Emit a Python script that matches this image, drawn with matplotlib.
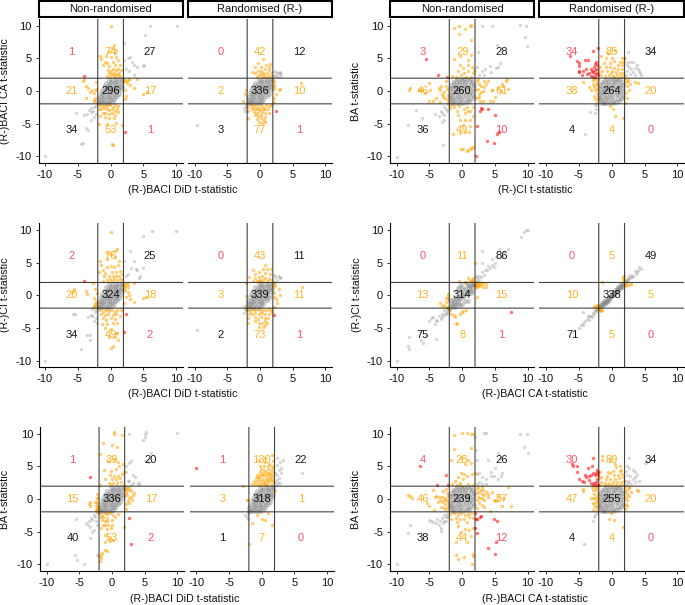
import matplotlib
matplotlib.use('Agg')
import matplotlib.pyplot as plt
from matplotlib.patches import Rectangle

plt.rcParams['font.family'] = ['Liberation Sans', 'DejaVu Sans']

W, H = 685, 605
lim = 11
thr = 1.96

# central clouds, read by eye
blob_round = [(-1.8,-1.6),(-1.5,-1.8),(-1.2,-1.9),(-0.8,-1.8),(-0.3,-1.9),(0.2,-1.8),(0.7,-1.7),(1.1,-1.5),(-1.9,-1.1),(-1.6,-1.2),(-1.2,-1.3),(-0.9,-1.1),(-0.5,-1.4),(-0.1,-1.2),(0.4,-1.3),(0.9,-1.1),(1.4,-1.2),(1.8,-0.9),(-1.9,-0.6),(-1.5,-0.7),(-1.1,-0.5),(-0.7,-0.8),(-0.3,-0.6),(0.1,-0.7),(0.6,-0.6),(1.0,-0.4),(1.5,-0.6),(-1.8,-0.1),(-1.4,-0.2),(-1.0,0.0),(-0.6,-0.2),(-0.2,0.0),(0.3,-0.1),(0.7,0.1),(1.2,-0.1),(1.7,0.0),(-1.9,0.4),(-1.5,0.5),(-1.1,0.3),(-0.7,0.5),(-0.3,0.3),(0.2,0.5),(0.6,0.4),(1.1,0.5),(1.6,0.4),(-1.7,0.9),(-1.3,1.0),(-0.9,0.8),(-0.5,1.0),(0,0.9),(0.4,1.0),(0.9,0.8),(1.3,1.0),(1.8,0.9),(-1.4,1.4),(-1.0,1.5),(-0.5,1.4),(0,1.5),(0.5,1.4),(1.0,1.5),(1.5,1.4),(-0.8,1.8),(-0.2,1.9),(0.3,1.8),(0.8,1.9),(1.3,1.8)]
blob_tilt = [(-1.9,-1.8),(-1.6,-1.9),(-1.3,-1.7),(-1.0,-1.9),(-0.6,-1.8),(-0.2,-1.9),(0.2,-1.7),(-1.9,-1.3),(-1.5,-1.4),(-1.1,-1.2),(-0.7,-1.4),(-0.3,-1.3),(0.1,-1.2),(0.5,-1.4),(-1.8,-0.9),(-1.4,-0.8),(-1.0,-0.9),(-0.6,-0.7),(-0.2,-0.9),(0.2,-0.8),(0.6,-0.9),(1.0,-0.7),(-1.5,-0.3),(-1.1,-0.4),(-0.7,-0.2),(-0.3,-0.4),(0.1,-0.2),(0.5,-0.4),(0.9,-0.2),(1.3,-0.4),(-1.3,0.2),(-0.9,0.1),(-0.5,0.3),(-0.1,0.1),(0.3,0.3),(0.7,0.1),(1.1,0.3),(1.5,0.1),(-1.0,0.7),(-0.6,0.6),(-0.2,0.8),(0.2,0.6),(0.6,0.8),(1.0,0.6),(1.4,0.8),(1.8,0.6),(-0.7,1.2),(-0.3,1.1),(0.1,1.3),(0.5,1.1),(0.9,1.3),(1.3,1.1),(1.7,1.3),(-0.2,1.7),(0.2,1.6),(0.6,1.8),(1.0,1.6),(1.4,1.8),(1.8,1.7)]
blob_diag_wide = [(-1.9,-1.9),(-1.6,-1.5),(-1.4,-1.7),(-1.2,-1.1),(-1,-1.3),(-0.8,-0.6),(-0.6,-0.9),(-0.5,-0.3),(-0.3,-0.6),(-0.1,0),(0.1,-0.2),(0.3,0.4),(0.5,0.1),(0.7,0.7),(0.9,0.4),(1,1.1),(1.2,0.8),(1.4,1.5),(1.6,1.2),(1.8,1.8),(1.9,1.6),(-1.7,-1.2),(-1,-0.3),(-0.2,0.5),(0.5,1),(-0.8,0.7),(-0.4,1.3),(0.1,1.1),(0,-1.3),(0.9,-0.8),(1.4,0.3),(-1.4,-0.5),(-1.1,-1.8),(-0.4,-1.5),(0.4,-0.9),(-0.1,1.8),(-0.7,1.1),(0.9,1.6),(1.5,0.7),(-1.8,-0.7),(0.6,1.9),(1.6,1.8),(1.1,1.4),(-1.2,-0.9),(-0.7,-1.3)]
blob_diag_tight = [(-1.9,-1.8),(-1.7,-1.8),(-1.6,-1.5),(-1.4,-1.5),(-1.2,-1.1),(-1,-1.1),(-0.8,-0.8),(-0.6,-0.7),(-0.4,-0.5),(-0.2,-0.2),(0,0),(0.2,0.1),(0.4,0.5),(0.6,0.5),(0.8,0.9),(1,0.9),(1.2,1.3),(1.4,1.3),(1.6,1.7),(1.8,1.6),(1.9,1.9),(-1.5,-1.2),(-1.1,-0.8),(-0.7,-0.5),(-0.3,-0.1),(0.1,0.4),(0.5,0.8),(0.9,1.2),(1.3,1.6),(-1.3,-1.5),(-0.9,-1.1),(-0.5,-0.8),(-0.1,-0.3),(0.3,0.1),(0.7,0.5),(1.1,0.9),(1.5,1.3)]

# row 1
r1c1_counts = [1,74,27,21,296,17,34,53,1]
r1c1_grey = [(-10,-10),(6,10),(10.1,10),(5.2,8.6),(2,7.4),(3,5.2),(2.6,5),(3.3,4.5),(2,4.8),(3.5,4),(4,3.7),(5,3.8),(5.1,3.9),(2.3,3.3),(2.8,3),(3.5,2.5),(-5.3,-3.4),(-4,-3.6),(-3.6,-3.5),(-3,-3.2),(-3.3,-2.9),(-3,-2.6),(-2.7,-3),(-2.5,-2.5),(-2.2,-2.3),(-4.5,-8.1),(-4.2,-8),(-3.5,-5.9),(-3.8,-5.6),(-3,-4.5),(-2.6,-4),(-2.2,-3.5)]
r1c1_orange = [(0,9.9),(0.5,7),(0.2,6.5),(0.9,6.3),(-0.3,6),(0.6,5.8),(-1.6,5.3),(-0.7,5.4),(-1.5,4.9),(-0.9,4.5),(0.1,5.2),(0.8,5.2),(1.1,4.7),(-0.5,4.3),(0.3,4.5),(-1.1,3.9),(-0.2,3.8),(0.6,3.9),(1.4,4),(1.6,3.2),(-0.4,3.2),(0,3.1),(0.4,3.3),(0.8,3.2),(1.2,3.4),(-0.3,2.7),(0.1,2.6),(0.5,2.8),(0.9,2.6),(1.3,2.8),(-0.5,2.3),(-0.1,2.2),(0.3,2.4),(0.7,2.2),(1.1,2.4),(1.5,2.3),
    (-4,1.9),(-4.2,1.6),(-3.7,0.8),(-3.4,0.4),(-2.8,0.2),(-2.3,0.1),(-2.2,0.3),(-2.5,-0.3),(-2.4,-1),(-2.5,-1.6),(-2.5,-1.4),(-3.7,-1),(-3.1,-0.1),(-2.3,1.3),
    (2.1,1.6),(2.3,1.5),(2.5,1.2),(2.9,0.9),(3.5,0.4),(2.2,0.2),(4.9,-0.4),(5.5,-0.2),(2.4,-0.7),(2.2,-1.2),(2.8,1.8),(2.1,1.9),(4,1.8),(2.6,1.7),
    (-1.7,-2.2),(-1.3,-2.3),(-0.9,-2.1),(-0.5,-2.3),(-0.1,-2.2),(0.3,-2.4),(0.7,-2.2),(1.1,-2.3),(-1.8,-2.7),(-1.4,-2.8),(-1,-2.6),(-0.6,-2.8),(-0.2,-2.9),(0.2,-2.7),(0.6,-3),(1.0,-2.7),(-1.2,-3.3),(-0.8,-3.4),(-0.3,-3.5),(0.2,-3.3),(0.6,-3.6),(1.2,-3.2),(-1.6,-3.8),(-0.9,-4),(-0.2,-4.2),(0.5,-4.1),(-1.7,-5),(-0.5,-5),(0.9,-4.9),(0.2,-8.1),(0.3,-8.3),(1.7,-5.2)]
r1c1_red = [(-4,2.3),(2.2,-6.2)]

r1c2_counts = [0,42,12,2,336,10,3,77,1]
r1c2_grey = [(-9.7,-5.2),(-2.5,-2.6),(-2,-3),(2.3,2.5),(2.6,2.3),(2.9,2.2),(3.1,2.7),(3,2.9),(2.5,2.9),(2.1,3.1),(2.2,2.2),(2.7,2.7),(3.2,2.4),(-2.1,-2.2),(-2.3,-3.1),(-2.2,-2.5)]
r1c2_orange = [(0.4,4.9),(-0.3,4.3),(0.9,4),(1.5,4.2),(1.3,3.7),(-0.7,3.6),(0.1,3.7),(0.7,3.4),(1.4,3.2),(-1.2,2.9),(-0.8,2.8),(-0.3,3),(0.2,3),(0.5,2.8),(1.1,2.8),(1.7,2.8),(-0.1,2.4),(0.3,2.2),(0.6,2.5),(0.9,2.2),(1.3,2.3),(-0.5,2.2),(1.8,2.3),(0.2,2.6),
    (-2.3,-0.5),(-2.6,-1.5),(-2.2,0.1),
    (2.1,1.6),(2.2,1.1),(2.9,0.2),(2.2,0.3),(3,0.3),(2.4,-0.5),(2.1,-1),(6.2,1.2),(2.2,-1.7),(2.1,0.8),
    (-1.8,-2.4),(-1.4,-2.2),(-1,-2.4),(-0.7,-2.2),(-0.3,-2.4),(0.1,-2.2),(0.5,-2.4),(0.9,-2.1),(1.3,-2.3),(1.7,-2.2),(-1.2,-2.7),(-0.8,-2.8),(-0.4,-2.7),(0,-2.8),(0.4,-2.7),(0.8,-2.8),(1.2,-2.7),(-1.8,-3.1),(-0.9,-3.2),(-0.5,-3.3),(-0.1,-3.1),(0.3,-3.2),(0.8,-3.3),(1.3,-3.4),(-0.8,-3.7),(-0.3,-3.8),(0.2,-3.7),(0.7,-3.9),(-1.9,-4.2),(-0.4,-4.3),(0.1,-4.2),(0.6,-4.4),(-0.1,-4.8),(0.3,-4.9),(0.7,-4.7)]
r1c2_red = [(2.4,-3)]

r1c3_counts = [3,29,28,46,260,61,36,49,10]
r1c3_grey = [(-10,-10.1),(3,10),(4.5,10),(8.8,10.1),(9.8,10),(9.6,8.3),(9.9,6.8),(5.3,7),(2.4,6),(5.8,4.3),(5.5,3.6),(5.2,3.5),(4.3,3.8),(3.5,3.4),(3.1,3),(2.5,2.5),(3.4,2.4),(2.3,3.7),(4.4,2.9),(-8.2,-5.2),(-6.1,-4.1),(-7,-2.9),(-4.1,-3.5),(-3.6,-3.8),(-3,-3.3),(-2.8,-4.5),(-3.1,-4.8),(-2.8,-3.7),(-2.3,-3),(-2.7,-2.4),(-3.3,-3.1),(-2.2,-2.1),(-2.5,-2.8),(-2.9,-8.2)]
r1c3_orange = [(-1.3,9.7),(-0.5,10),(0.5,9.4),(1.4,10.1),(1.2,10),(-0.5,8.7),(1.3,7.8),(-1.2,4.9),(-0.3,5.3),(1.3,5.5),(0.9,4.8),(-0.4,3.9),(0.2,3.5),(0.9,3.9),(1.5,3.6),(-0.7,3),(0.3,2.8),(0.9,3),(1.6,2.8),(-1.6,2.3),(-0.9,2.2),(-0.2,2.4),(0.6,2.2),(1.4,2.2),(1.8,3.2),
    (-8,0.4),(-8.1,0.2),(-6.6,0.2),(-6.2,0.1),(-5.7,-0.3),(-5,1.2),(-4.9,0.2),(-4.4,-1.6),(-4,-1),(-3.6,0.4),(-3.4,0.1),(-3.1,-0.4),(-2.9,-0.7),(-2.7,-0.1),(-2.5,0.8),(-2.3,0.3),(-2.8,-1.1),(-2.3,-1.2),(-2.1,-0.6),(-2.2,-1.7),(-3.4,-1.7),(-5.1,-1.5),(-2.5,1.5),(-3.2,0.7),
    (2.2,1.6),(2.6,1),(2.9,0.8),(3.3,0.6),(2.4,0.3),(2.1,0.1),(2.5,-0.4),(2.9,-0.2),(3.2,0),(3.7,1.1),(4,1.5),(4.5,0.1),(4.6,0.2),(5.5,0.4),(6,1.1),(6.3,0.7),(6.8,1.9),(6.7,1.5),(7,0.3),(5.9,0),(2.2,-1),(2.7,-1.5),(3.2,-1.5),(4.2,-1.5),(4.7,-1.6),(2.4,1.9),(3.3,1.5),(5,-0.9),(2.6,-0.9),
    (-1.7,-2.2),(-1.2,-2.4),(-0.5,-2.3),(0.3,-2.7),(0.8,-2.5),(1.2,-3),(1.6,-2.4),(-1.8,-2.6),(-0.8,-3),(0.5,-3.3),(0.9,-3),(1.7,-3.8),(-0.4,-4.4),(0.4,-4.5),(1.2,-4.5),(-0.6,-3.7),(0.2,-5.2),(1.2,-5.3),(-1.4,-6.5),(-0.4,-6.4),(0.4,-6.2),(1,-6.2),(1.6,-8.5),(1.4,-8.7),(0.9,-9),(0.2,-8.9),(0.8,-9.2),(1.4,-8.8),(-0.1,-8.8)]
r1c3_red = [(-5.5,4.9),(-3.7,2.5),(-2.3,2.1),(2.9,-2.6),(3,-2.8),(2.7,-3),(3.9,-2.7),(5,-3.6),(2.2,-5.3),(3.8,-7.7),(4.8,-8),(5.3,-6.5),(5.6,-6.2),(2.1,-10)]

r1c4_counts = [34,85,34,38,264,20,4,4,0]
r1c4_grey = [(-2.4,-2.8),(-2.6,-3.3),(-3.3,-3.2),(-4,-6.6),(-2.2,-2.2),(-2.5,-2.1),(2.5,6),(5.5,5.8),(2.1,5),(2.8,4.5),(3.2,4.4),(2.4,3.9),(3.8,4),(3.5,3.5),(3,3.3),(2.4,3.1),(4,3.3),(4.3,2.8),(2.8,2.6),(3.5,2.5),(2.2,2.4),(3.2,2.9),(2.6,3.6),(4.4,2.5),(2.3,4.4),(4.2,3)]
r1c4_orange = [(-0.5,5.8),(0.5,6.2),(-1.6,5.3),(-0.9,5),(0,5),(1.5,5),(1.9,5.1),(1.2,4.5),(1.7,4.5),(-1.2,4.3),(-0.3,4.3),(0.4,4.6),(0.9,4),(1.5,3.9),(-1.7,3.7),(-0.9,3.6),(-0.2,3.7),(0.4,3.5),(1,3.3),(1.6,3.3),(-1.4,3),(-0.7,3),(0,3),(0.6,2.9),(1.2,2.8),(1.8,2.8),(-1.6,2.4),(-1,2.3),(-0.4,2.5),(0.2,2.3),(0.8,2.4),(1.4,2.3),(1.9,2.3),(-0.1,2.7),(0.4,2.1),(-1.9,2.9),
    (-4.3,1.3),(-2.9,1.7),(-2.9,1.1),(-2.7,0.6),(-2.4,0.9),(-2.2,1.4),(-3.4,0.6),(-3.2,0.1),(-2.6,0.1),(-2.3,0.3),(-2.2,-0.3),(-2.7,-0.7),(-2.5,-1.2),(-2.3,-1.7),(-2.1,-1),(-2.6,1.9),(-2.1,1.8),(-2.3,1.1),
    (2.1,1.8),(2.2,1.3),(2.5,1.5),(2.8,1.1),(3.6,1.3),(4,1.2),(2.3,0.7),(2.6,0.2),(2.2,-0.3),(2.3,-1),(2.1,-1.8),(2.5,1.9),
    (-0.2,-2.3),(0.2,-2.7),(1.7,-4.2),(0.5,-3.8)]
r1c4_red = [(-2,6.6),(-2.9,6.1),(-6.4,5.3),(-5.2,4.6),(-4.9,4.3),(-4,4.8),(-3.6,4.7),(-4.9,3.8),(-5,3.1),(-4.9,2.9),(-4.4,3),(-3.9,3.3),(-3.8,2.6),(-4.5,2.4),(-3.4,2.7),(-3.2,3.3),(-3,3),(-2.8,2.9),(-2.7,3.7),(-2.5,3.2),(-2.6,2.6),(-2.3,2.8),(-2.2,3.4),(-2.4,4.4),(-2.1,2.4),(-2.5,2.2),(-3.1,2.3),(-2.3,3.9),(-2.6,4.1),(-2.9,2.2)]

# row 2
r2c1_counts = [2,76,25,20,324,18,34,49,2]
r2c1_grey = [(-10,-10),(6.3,9.8),(10,9.9),(5,9),(3,6.8),(2,5.3),(3.5,5.2),(3.1,4.2),(3.8,4),(4,3.9),(5,4.2),(4.5,3),(2.7,3.2),(2.3,2.9),(4.4,2.6),(-5.7,-2.8),(-5.4,-2.9),(-3.5,-3.3),(-3,-3),(-2.8,-3.2),(-2.4,-2.5),(-2.2,-2.2),(-2.8,-2.1),(-2.1,-4.3),(-3.6,-6),(-3.2,-6.8),(-3.1,-6.1),(-4.5,-8.2),(-2.2,-3.5),(-2.6,-3.9)]
r2c1_orange = [(0,9.7),(1,7),(0.7,6.8),(0.1,6.3),(-0.5,6.5),(0.7,5.9),(-1.6,5.3),(-0.5,5.5),(1.3,5.2),(-1.4,4.6),(-0.5,4.4),(0,4.5),(0.5,4.4),(1.1,4.7),(-1.7,3.5),(-1.2,3.9),(-0.8,3.4),(0.2,3.5),(0.9,3.6),(1.5,3.7),(-1,2.9),(-0.3,3),(0.4,3),(0.8,2.9),(1.3,3),(1.8,3.2),(-0.6,2.4),(-0.1,2.5),(0.5,2.5),(1,2.4),(1.4,2.5),(1.8,2.4),(0.2,2.2),(-1.2,2.2),
    (-5.6,0.9),(-5.8,0.5),(-3.7,0.6),(-3.6,0.2),(-2.7,1.9),(-2.4,1),(-2.5,-0.4),(-2.4,-1.4),(-2.5,-1.8),(-2.2,-1.2),(-2.3,-0.9),(-2.1,0.4),(-2.2,-1.6),(-2.6,-1.7),
    (2,1.8),(2.2,1.4),(2.4,1.7),(2.6,1.2),(3.5,1.9),(2.2,0.8),(2.6,0.5),(2.3,-0.2),(3,-0.6),(3.6,-1),(5,-0.4),(5.4,-0.2),(2.1,-1.2),(2.8,0),(2.1,1.1),(2.7,1.8),
    (-1.6,-2.2),(-1.2,-2.5),(-0.7,-2.2),(-0.2,-2.4),(0.2,-2.2),(0.6,-2.5),(1,-2.3),(1.6,-2.2),(-1.5,-2.9),(-0.9,-3),(-0.4,-2.8),(0.3,-3),(0.8,-2.9),(-1.2,-3.5),(-0.7,-3.7),(0,-3.5),(0.6,-3.6),(1.4,-3.2),(-1.3,-4.4),(-0.6,-4.4),(0.3,-4.2),(1,-4.2),(-0.8,-5),(0.1,-5.2),(0.8,-5.8),(1,-5.7),(-0.3,-6.3),(0.6,-6.3),(1.2,-6.8),(0.1,-8),(0.3,-7.8)]
r2c1_red = [(-4.1,2.2),(2.4,-2.8),(2.1,-5.6)]

r2c2_counts = [0,43,11,3,339,11,2,73,1]
r2c2_grey = [(-9.7,-5.3),(-2.4,-2.7),(-2.1,-2.3),(-2.3,-2.1),(2.2,2.1),(2.6,2.4),(3,2.8),(3.1,2.6),(2.7,2.9),(2.3,2.8),(2.1,3.1)]
r2c2_orange = [(0.7,4.6),(-1,3.9),(-0.2,3.5),(0.5,4),(1.1,4),(1.7,4),(-0.8,3.3),(0.8,3.4),(1.5,3.2),(-1.7,2.8),(-0.7,2.6),(-0.2,2.8),(0.3,2.9),(0.8,2.7),(1.3,2.5),(-1.1,2.2),(-0.5,2.2),(0,2.4),(0.5,2.3),(1,2.2),(1.8,2.4),(0.2,2.1),(-0.2,2.2),
    (-2.2,1.9),(-2.1,-0.1),(-2.3,-1.6),
    (2.3,1.6),(2.1,1.2),(2.9,1),(3,0.1),(2.4,-0.6),(2.2,-0.2),(6.4,1.2),(2.1,0.4),(2.6,-1.2),(2.2,1.9),(2.1,-1.8),
    (-1.9,-2.2),(-1.5,-2.4),(-1.1,-2.1),(-0.7,-2.3),(-0.3,-2.1),(0.1,-2.4),(0.5,-2.2),(0.9,-2.3),(1.3,-2.1),(1.7,-2.3),(-1.7,-2.8),(-1.2,-2.9),(-0.7,-2.7),(-0.2,-2.9),(0.3,-2.7),(0.8,-2.9),(1.3,-2.8),(1.8,-2.6),(-1.9,-3.4),(-0.8,-3.3),(-0.3,-3.6),(0.2,-3.3),(0.7,-3.5),(1.2,-3.5),(-1.9,-4.2),(-0.7,-4),(-0.2,-4.2),(0.3,-4.2),(0.8,-4),(-0.1,-4.9),(0.4,-4.8),(0.8,-4.6),(1.1,-4.3)]
r2c2_red = [(2.2,-3)]

r2c3_counts = [0,11,86,13,314,15,75,8,1]
r2c3_grey = [(-10,-10),(-8.1,-6.3),(-8.2,-7.7),(-8.1,-8.2),(-6.2,-6.9),(-6,-7.3),(-5.5,-6),(-4,-6.7),(-6.4,-5.5),(-5,-4),(-4.8,-3.4),(-4.5,-3.3),(-4,-3.8),(-3.6,-3.2),(-3.3,-3.6),(-3.1,-2.8),(-2.7,-3),(-2.4,-2.5),(-2.2,-2.2),(-2.8,-2.3),(-3,-3.3),(-2.5,-2.9),(-2.1,-2.7),(-3.8,-4),(-4.2,-4.4),(-2.3,-2),(-2.1,-2.05),(10,10),(9.8,10),(9.5,9.7),(9,8.9),(7,7),(5.6,7),(6.4,6.6),(3,6.8),(5.2,5.9),(6,5.9),(5,5),(4.5,4.7),(4,4.5),(3.5,3.9),(3,3.5),(2.6,3),(2.3,2.6),(2.9,2.8),(3.3,3.1),(3.8,3.9),(4.3,4.2),(4.8,4.4),(2.2,2.2),(2.1,2.9),(2.5,2.4),(3.1,4.9),(4.5,5.6)]
r2c3_orange = [(2,4.9),(-0.5,2.2),(0.9,2.6),(1.3,2.4),(1.6,2.7),(0.5,2),(1.5,2.2),(1.9,2.1),(1.2,2.2),(1.7,2.3),
    (2.2,1.9),(2.4,1.6),(2.6,1.4),(2.1,1.7),(2.3,1.3),(3.2,1.9),(3.7,1.8),(3.7,1.3),(3.2,1.3),(2.2,-0.3),(2.9,1.5),(2.1,1.2),(2.5,1.8),(2.8,1.9),(2.2,1.5),
    (-3.4,-1.1),(-3,-1.6),(-2.4,-1),(-2.2,-0.5),(-2.2,0.2),(-2.1,-0.1),(-2.4,-1.8),(-2.7,-1.5),(-2.1,-1.8),(-2.5,-0.4),
    (-1.8,-2.2),(-1.7,-2.9),(-1.2,-3),(-1.1,-3.3),(-0.8,-4.4),(-1,-4.3),(0,-2.6),(0.1,-2.4),(0.6,-2.3),(-0.3,-2.8)]
r2c3_red = [(7.4,-2.5)]

r2c4_counts = [0,5,49,10,338,5,71,5,0]
r2c4_grey = [(-5,-5),(-4.7,-4.5),(-4.3,-4.2),(-4,-4),(-3.8,-3.6),(-3.5,-3.7),(-3.4,-3.2),(-3.1,-3.1),(-2.9,-2.7),(-2.7,-2.8),(-2.5,-2.4),(-2.3,-2.4),(-2.2,-2.1),(-4.4,-2.6),(-4.4,-4.5),(-3.6,-3.2),(-3,-3.3),(-2.6,-2.2),(2.1,2.1),(2.3,2.3),(2.5,2.7),(2.8,2.6),(3,3.1),(3.3,3),(3.5,3.7),(3.8,3.5),(4,3.9),(4.2,4.3),(4.4,4),(2.7,2.9),(2.2,2.4),(2.5,2.3),(3.1,2.8),(3.7,3.3)]
r2c4_orange = [(1.9,2.4),(1.8,2.8),(1.9,2.2),(1.8,2.5),(1.9,3),(-1.5,2),
    (2.1,1.8),(2.3,1.7),(2.6,1.6),(2.9,1.7),(2.2,1.4),
    (-2.7,-1.7),(-2.3,-1.5),(-2.2,-1.9),(-2.1,-1.6),(-2.4,-1.8),
    (-1.8,-2.1),(-1.6,-2.4),(-1.9,-2.3),(-1.7,-2.2),(-1.5,-2.3)]
r2c4_red = []

# row 3
r3c1_counts = [1,39,20,15,336,17,40,53,2]
r3c1_grey = [(-10,-9.9),(-5.6,-8.6),(-5.3,-9.3),(-4.3,-10),(-2.2,-8.5),(-5.5,-3.1),(-4,-3.7),(-3.7,-4),(-3.5,-3.3),(-3.2,-2.9),(-3,-3.2),(-2.8,-2.5),(-2.6,-2.8),(-2.4,-3.4),(-2.3,-2.2),(-2.2,-4),(-3.3,-4.3),(-3.4,-6),(-2.7,-4.7),(-3,-5),(10,10.1),(5,10),(5.2,10.2),(2.7,10),(4.8,9),(5,9.5),(6,7),(5.1,5.8),(5.5,5.6),(3,5.8),(2.6,5.5),(2.2,5),(3.3,3.6),(3.5,3.3),(4,2.4),(4.1,2.3),(3.3,2.4),(2.4,2.8),(3,2.2),(2.7,2.7),(2.2,4.1)]
r3c1_orange = [(0.3,10.2),(0.3,9.9),(1.5,9.8),(-1.4,8.6),(0,8.2),(0.8,8),(-1.8,6.9),(0.4,6.1),(-0.6,5.8),(0.9,5.6),(1.7,5.3),(1.1,5.1),(-0.1,4.3),(0.6,4.6),(-1.2,4.4),(1.9,4.2),(-0.3,3.6),(0.3,3.5),(1,3.5),(1.5,3.8),(-1,3.1),(0,3),(0.7,3),(1.2,3.2),(-0.5,2.5),(0.2,2.4),(0.8,2.5),(1.4,2.6),(1.8,2.2),(-0.1,2.1),(-1.8,2.2),
    (-3.3,-0.4),(-3.5,-0.8),(-3.4,-1),(-2.6,-0.4),(-2.2,0.8),(-2.3,0.2),(-2.3,-0.4),(-2.2,-0.7),(-2.4,-1),(-2.1,-1.2),(-2.2,-1.5),(-2.4,-1.7),(-2.5,-1.9),(-2.1,0.2),(-2.3,-1.3),
    (2.2,1.6),(2.6,1.3),(3,1.2),(3.4,0.9),(3.3,0.6),(2.9,0.3),(2.3,0.6),(2.1,0.9),(2.4,-0.3),(2.2,-0.8),(2.7,1.7),(2.3,1.9),(2.1,1.3),(2.6,0.2),(3.1,-0.1),(2.2,-1.6),(2.7,-0.6),
    (-1.9,-2.2),(-1.5,-2.4),(-1.1,-2.1),(-0.7,-2.3),(-1.7,-2.7),(-1.3,-2.8),(-0.8,-2.9),(-0.3,-2.2),(0.1,-2.5),(-1.5,-3.2),(-1.1,-3.4),(-0.7,-3.3),(0,-3.2),(0.5,-2.8),(1,-2.3),(-1.4,-3.9),(-1.1,-4),(-0.6,-3.9),(0,-3.9),(-1.6,-4.5),(-0.8,-4.6),(-0.2,-4.5),(1.9,-4.3),(-1,-5.5),(-0.4,-5.9),(-1,-6.6),(-0.3,-6.4),(0.2,-6.2),(-1.1,-7.8),(-0.8,-7.9),(-1.5,-8.2),(-1.7,-8.6),(-1.7,-9),(-1.8,-9.4),(-1.9,-8.7)]
r3c1_red = [(-3.3,3.3),(2.7,-2.9),(2.9,-6.8)]

r3c2_counts = [1,130,22,3,318,1,1,7,0]
r3c2_grey = [(-2.1,-3.1),(6.2,4),(2.4,6.2),(3.2,6),(2.8,5.6),(2.3,5.2),(2.6,4.5),(2.9,4.8),(3,4),(2.4,3.6),(2.7,3.2),(2.3,2.9),(2.1,4),(2.5,2.5),(2.2,2.2),(2.8,2.4),(2.1,2.6),(-2.5,-2.5),(-2.1,-2.2),(-2.3,-2.8)]
r3c2_orange = [(1.6,6.7),(0.5,5.6),(1.1,5.4),(0.5,6.2),(1.7,5.8),(-0.4,6),(-0.2,5),(0.4,5),(1,5),(1.5,5),(-0.1,4.6),(0.4,4.5),(0.9,4.6),(1.4,4.5),(1.8,4.7),(-0.3,4.1),(0.2,4),(0.7,4.1),(1.2,4),(1.7,4.1),(-0.7,3.7),(-0.2,3.6),(0.3,3.6),(0.8,3.7),(1.3,3.6),(1.8,3.7),(-0.9,3.2),(-0.4,3.2),(0.1,3.1),(0.6,3.2),(1.1,3.2),(1.6,3.1),(-1.2,2.7),(-0.7,2.8),(-0.2,2.7),(0.3,2.8),(0.8,2.7),(1.3,2.8),(1.8,2.7),(-1.5,2.3),(-1,2.3),(-0.5,2.3),(0,2.3),(0.5,2.3),(1,2.3),(1.5,2.3),(-0.2,2.1),(0.7,2.1),(-0.6,3.4),(0.4,2.5),(1,2.9),(1.4,3.4),(0.1,3.6),(0.9,3.9),
    (-2.9,2),(-2.2,-0.2),(-2.1,-0.1),(2.1,1.2),
    (-1.9,-6.9),(-1.5,-3.6),(0,-3),(0.5,-3.2),(1.5,-4),(-0.7,-2.4),(1,-2.2)]
r3c2_red = [(-10,4.8)]

r3c3_counts = [4,28,26,46,239,57,38,44,12]
r3c3_grey = [(-10,-10),(-7.9,-4),(-8.2,-5.2),(-5,-3.2),(-4.8,-3.3),(-4.5,-3.5),(-4,-3.7),(-3.4,-3.4),(-3.2,-4.9),(-3.3,-4.4),(-2.8,-3.3),(-3,-2.9),(-2.5,-2.8),(-2.3,-2.3),(-2.1,-2.7),(-3.6,-4),(-2.7,-2.4),(-2.4,-3.4),(-2.9,-3.7),(-3.8,-3.1),(3.4,10.1),(3.6,10.1),(8.8,10),(9.9,10),(9.4,8),(10,7),(5.4,7),(2,9.5),(2.2,5.9),(4,6),(5.8,6.2),(5,4.7),(6,4),(4.4,4.2),(4.4,3.5),(5.9,3.5),(4.9,3.5),(3,3.3),(2.3,3.8),(2.5,3.9),(2.6,2.6),(3.7,2.3),(2.2,2.3),(3,2.3),(2.1,7.5),(5.4,3),(3.7,3)]
r3c3_orange = [(-1.3,9.8),(0,10.1),(0.7,10.1),(1.3,10),(1.7,10),(-1.2,7.7),(1.4,7.8),(-1.7,6),(-0.1,6.2),(0.5,5.3),(0.9,6),(1.4,5.5),(-0.2,3.9),(0.3,3.8),(-0.6,3.3),(0.2,3.1),(0.7,3.5),(1.5,3.8),(1.9,4),(-1.1,2.8),(-0.3,2.5),(0.9,2.3),(-0.4,2.2),(-1.6,2.3),(-0.8,2.1),(1.6,2.2),
    (-8.3,0.6),(-8,0.5),(-7.7,0.2),(-5,-1.1),(-4.5,1.3),(-4.1,0.3),(-4,0.5),(-3.6,0.3),(-3.4,-0.2),(-3.1,0.3),(-3,-0.4),(-2.8,-0.1),(-2.6,0.1),(-2.6,-0.8),(-2.4,-0.2),(-2.3,0.9),(-2.2,-0.5),(-2.1,-1),(-2.4,-1.5),(-2.8,-1.4),(-4.3,-1.7),(-3.3,-1.2),(-2.5,1.5),(-2.2,0.4),(-2.9,1.2),(-3.7,-0.5),(-5.3,-0.6),
    (2.2,1.6),(2.5,1),(2.8,1.3),(3,0.8),(3.2,1.3),(3.4,0.6),(3.6,1),(3.9,0.8),(2.4,0.3),(2.7,0.1),(3,0.2),(2.2,-0.2),(2.6,-0.6),(3,-0.9),(3.4,-0.2),(4,0.3),(4.6,1),(4.8,-0.1),(5,-0.3),(5.6,0.4),(6.2,0.2),(7,1.9),(7.4,-1.1),(6,-1),(5.3,-0.2),(2.3,-1.4),(3.3,-1.2),(4.3,-1.8),(3,1.8),(2.4,1.9),(2.2,0.9),
    (-1.8,-2.3),(-1.3,-2.2),(-0.7,-2.4),(-0.2,-2.2),(0.4,-2.4),(0.9,-2.3),(1.4,-2.2),(-1.7,-3),(-1,-2.9),(-0.4,-3),(0.3,-3),(1,-2.8),(1.6,-2.9),(-0.8,-3.5),(0.7,-3.5),(-0.7,-4.1),(-0.2,-5),(0.4,-4.6),(1,-4.7),(1.7,-4.5),(-1,-6.6),(0.7,-6.5),(1.3,-5.6),(-1,-8.5),(-0.6,-9.2),(0.3,-8.8),(1.6,-8.4),(1.7,-8.7),(1.5,-10)]
r3c3_red = [(-6.4,5),(-3.8,2.2),(-2.4,3.6),(-2.2,2.1),(2,-2.1),(2.9,-2.6),(2.3,-3),(2.7,-2.8),(2.1,-3.1),(4.9,-3),(5.3,-3.4),(2,-4.5),(2.2,-5.2),(3.9,-7.5),(5,-8.4),(5.2,-6.5)]

r3c4_counts = [30,89,34,47,255,20,4,4,0]
r3c4_grey = [(-2.8,-3.3),(-2.7,-2.8),(-2.5,-2.4),(-2.3,-2.1),(-4.2,-6.9),(2.7,6.2),(5.3,5.7),(5,5.5),(2.3,5),(2.7,4.8),(2.2,4.3),(3.2,4.4),(3.6,4.1),(3.9,3.6),(3.5,3.3),(2.3,3.6),(2.8,3.5),(3.2,3),(2.2,2.8),(2.7,2.8),(3.5,2.6),(4.1,2.8),(2.5,2.4),(3,2.3),(2.2,2.2)]
r3c4_orange = [(-1.5,6.6),(-1.4,6),(-0.3,6),(0.5,5.4),(0.6,4.9),(1.3,5),(-1.8,4.1),(-0.6,4.1),(0.2,4.3),(1.2,4.3),(1.4,4.5),(-0.7,3.5),(-0.2,3.9),(0.4,3.6),(1,3.6),(1.5,3.8),(-1.6,3.3),(-0.8,3),(-0.2,3),(0.5,3),(1.1,3.2),(1.7,3.3),(-1.6,2.6),(-1,2.5),(-0.4,2.5),(0.2,2.6),(0.8,2.6),(1.4,2.6),(1.9,2.8),(-1.8,2.2),(-1.2,2.1),(-0.6,2.2),(0,2.1),(0.6,2.2),(1.2,2.2),(1.8,2.2),(-1.9,3.2),
    (-4.3,1.5),(-4.3,1.2),(-3,1.9),(-2.9,1.3),(-2.7,0.8),(-2.4,1.4),(-2.2,1.7),(-3.2,0.2),(-2.9,0.2),(-2.6,0.1),(-2.3,0.5),(-2.1,0.9),(-2.1,0),(-2.4,-0.4),(-2.7,-0.8),(-2.9,-0.6),(-2.2,-1.1),(-2.5,-1.2),(-2.9,-1.7),(-2.2,-1.7),(-2.5,1.9),(-2.3,-0.1),
    (2.1,1.8),(2.3,1.4),(2.6,1.7),(2.9,1),(2.4,0.7),(2.2,0.3),(2.6,0.4),(3.8,1.4),(4,1.2),(2.4,-0.1),(2.2,-0.7),(2.4,-1.1),(2.1,-1.5),(2.6,1.9),(2.1,1.2),
    (-0.4,-3),(0.3,-3.2),(-0.1,-2.1),(1.7,-4.3)]
r3c4_red = [(-2.9,6.3),(-6.1,5.4),(-5.9,5.1),(-5.2,5),(-3,5),(-3.6,4.8),(-5.2,4.1),(-4.9,3),(-4.5,2.8),(-4.2,2.6),(-4,3.7),(-3.5,3.5),(-3.1,3.6),(-2.8,3.9),(-2.4,3.9),(-2.2,4.5),(-2.1,4.2),(-2.6,3.6),(-3.5,2.9),(-3.1,2.5),(-2.7,2.4),(-2.4,2.6),(-2.2,3),(-2.1,2.2),(-2.9,2.2),(-2.4,2.2),(-3.9,3.3),(-2.1,3.7)]

strip_labels = ['Non-randomised', 'Randomised (R-)']
tick_vals = [-10, -5, 0, 5, 10]
grid_x = [-6, 0, 6, -6, 0, 6, -6, 0, 6]
grid_y = [6, 6, 6, 0, 0, 0, -6, -6, -6]
grid_col = ['red', 'orange', 'black', 'orange', 'black', 'orange', 'black', 'orange', 'red']
ylabels = ['(R-)BACI CA t-statistic', 'BA t-statistic', '(R-)CI t-statistic', '(R-)CI t-statistic', 'BA t-statistic', 'BA t-statistic']
xlabels = ['(R-)BACI DiD t-statistic', '(R-)CI t-statistic', '(R-)BACI DiD t-statistic', '(R-)BACI CA t-statistic', '(R-)BACI DiD t-statistic', '(R-)BACI CA t-statistic']

# pixel box of each panel: left, top, right, bottom
panels = [
    ((38.5,19,182.7,163), blob_tilt, r1c1_grey, r1c1_orange, r1c1_red, r1c1_counts),
    ((188,19,332,163), blob_tilt, r1c2_grey, r1c2_orange, r1c2_red, r1c2_counts),
    ((390,19,534.3,163), blob_round, r1c3_grey, r1c3_orange, r1c3_red, r1c3_counts),
    ((539.3,19,684,163), blob_round, r1c4_grey, r1c4_orange, r1c4_red, r1c4_counts),
    ((38.5,223.3,182.7,367.3), blob_tilt, r2c1_grey, r2c1_orange, r2c1_red, r2c1_counts),
    ((188,223.3,332,367.3), blob_tilt, r2c2_grey, r2c2_orange, r2c2_red, r2c2_counts),
    ((390,223.3,534.3,367.3), blob_diag_wide, r2c3_grey, r2c3_orange, r2c3_red, r2c3_counts),
    ((539.3,223.3,684,367.3), blob_diag_tight, r2c4_grey, r2c4_orange, r2c4_red, r2c4_counts),
    ((40,427,183.7,571), blob_tilt, r3c1_grey, r3c1_orange, r3c1_red, r3c1_counts),
    ((189.7,427,333.7,571), blob_tilt, r3c2_grey, r3c2_orange, r3c2_red, r3c2_counts),
    ((390,427,534.3,571), blob_round, r3c3_grey, r3c3_orange, r3c3_red, r3c3_counts),
    ((539.3,427,684,571), blob_round, r3c4_grey, r3c4_orange, r3c4_red, r3c4_counts),
]

text_rgba = {'red': (1, 0.2, 0.3, 0.85), 'orange': (1, 0.65, 0, 0.85), 'black': (0, 0, 0, 0.9)}


def scatter(ax, pts, color, alpha, size=6):
    if pts:
        ax.scatter([p[0] for p in pts], [p[1] for p in pts], s=size, c=color, alpha=alpha, linewidths=0)


fig = plt.figure(figsize=(W / 100, H / 100), dpi=100)
for i, (box, blob, grey, orange, red, counts) in enumerate(panels):
    l, t, r, b = box
    ax = fig.add_axes([l / W, 1 - b / H, (r - l) / W, (b - t) / H])
    # larger marks here so the cloud closes up like the solid patch in the original
    scatter(ax, blob, 'grey', 0.38, size=13)
    scatter(ax, grey, 'grey', 0.3)
    scatter(ax, orange, 'orange', 0.55)
    scatter(ax, red, 'red', 0.55)
    for v in (-thr, thr):
        ax.axhline(v, color='#222222', lw=0.8, alpha=0.85, snap=False)
        ax.axvline(v, color='#222222', lw=0.8, alpha=0.85, snap=False)
    for x, y, c, n in zip(grid_x, grid_y, grid_col, counts):
        ax.text(x, y, str(n), color=text_rgba[c], fontsize=8, ha='center', va='center')
    ax.set_xlim(-lim, lim)
    ax.set_ylim(-lim, lim)
    ax.set_xticks(tick_vals)
    ax.set_xticklabels([str(v) for v in tick_vals])
    ax.spines['top'].set_visible(False)
    ax.spines['right'].set_visible(False)
    ax.spines['bottom'].set_linewidth(0.8)
    ax.spines['left'].set_linewidth(0.8)
    ax.tick_params(length=2.2, width=0.6, labelsize=8, pad=2.8, colors='#111111')
    if i % 2 == 0:
        ax.set_yticks(tick_vals)
        ax.set_yticklabels([str(v) for v in tick_vals])
    else:
        ax.spines['left'].set_visible(False)
        ax.set_yticks([])
    # facet strips only on the top row
    if i < 4:
        fig.add_artist(Rectangle((l / W, 1 - 17 / H), (r - l) / W, 16 / H, transform=fig.transFigure,
                                 fc='white', ec='black', lw=1.5))
        fig.text((l + r) / 2 / W, 1 - 9 / H, strip_labels[i % 2], fontsize=8, ha='center', va='center', color='#111111')

# shared axis titles, one pair for each pair of panels
ylab_pos = [(5, 91), (356, 91), (5, 295), (357, 295), (5, 499), (356, 499)]
xlab_pos = [(183, 190), (535, 190), (183, 394), (535, 394), (185, 599), (535, 599)]
for txt, (x, y) in zip(ylabels, ylab_pos):
    fig.text(x / W, 1 - y / H, txt, rotation=90, fontsize=7.7, ha='center', va='center', color='#111111')
for txt, (x, y) in zip(xlabels, xlab_pos):
    fig.text(x / W, 1 - y / H, txt, fontsize=7.7, ha='center', va='center', color='#111111')

fig.savefig('out.png', dpi=100)
